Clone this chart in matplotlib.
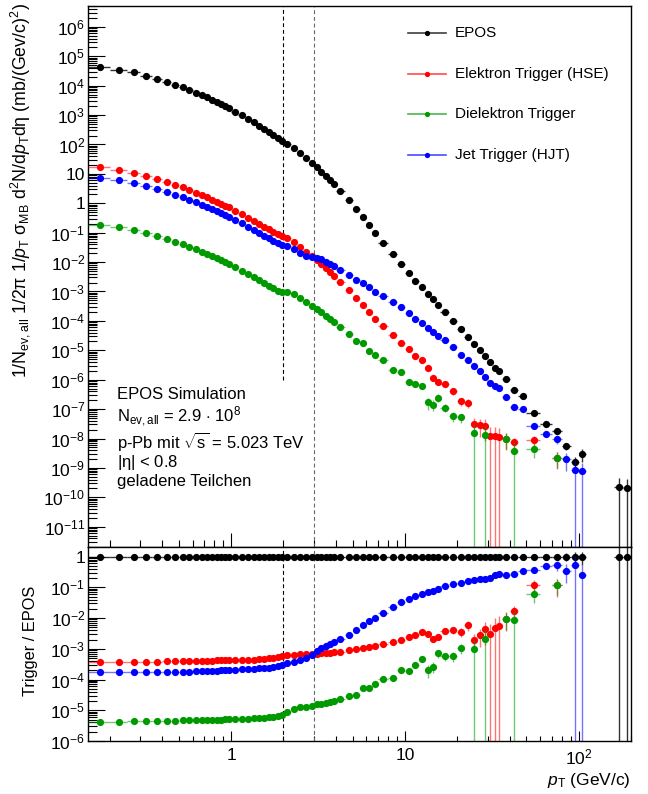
import numpy as np
import matplotlib
matplotlib.use("Agg")
import matplotlib.pyplot as plt
from matplotlib.lines import Line2D
from matplotlib.colors import to_rgba
from matplotlib.ticker import LogLocator, FixedLocator, FixedFormatter, NullFormatter

plt.rcParams['font.family'] = ['Liberation Sans', 'DejaVu Sans']
plt.rcParams['mathtext.fontset'] = 'custom'
plt.rcParams['mathtext.rm'] = 'Liberation Sans'
plt.rcParams['mathtext.it'] = 'Liberation Sans:italic'
plt.rcParams['mathtext.bf'] = 'Liberation Sans:bold'
plt.rcParams['mathtext.sf'] = 'Liberation Sans'

nan = np.nan

# pT binning (GeV/c)
pt_edges = [0.15, 0.2, 0.25, 0.3, 0.35, 0.4, 0.45, 0.5, 0.55, 0.6, 0.65, 0.7, 0.75, 0.8, 0.85, 0.9, 0.95, 1.0,
            1.1, 1.2, 1.3, 1.4, 1.5, 1.6, 1.7, 1.8, 1.9, 2.0,
            2.2, 2.4, 2.6, 2.8, 3.0, 3.2, 3.4, 3.6, 3.8, 4.0,
            4.5, 5.0, 5.5, 6.0, 6.5, 7.0,
            8, 9, 10,
            11, 12, 13, 14, 15, 16,
            18, 20, 22, 24, 26, 28, 30, 32, 34, 36,
            40, 45, 50, 60, 70, 80, 90, 100, 110, 120, 130, 140, 150, 160, 180, 200]

# log10 of the EPOS spectrum
epos_log = [4.64, 4.55, 4.45, 4.34, 4.23, 4.13, 4.03, 3.94, 3.85, 3.76, 3.68, 3.60, 3.51, 3.44, 3.37, 3.30, 3.23,
            3.12, 2.99, 2.87, 2.75, 2.64, 2.53, 2.42, 2.32, 2.22, 2.13,
            2.03, 1.87, 1.70, 1.53, 1.38, 1.22, 1.08, 0.93, 0.79, 0.66,
            0.43, 0.10, -0.20, -0.48, -0.75, -1.01,
            -1.34, -1.72, -2.06,
            -2.36, -2.63, -2.86, -3.08, -3.27, -3.46,
            -3.71, -4.00, -4.29, -4.54, -4.78, -4.98, -5.19, -5.40, -5.61, -5.70,
            -5.98, -6.35, -6.55, -7.14, -7.51, -7.73, -8.25, -8.79, -8.53, nan, nan, nan, nan, nan, -9.64, -9.69]

# log10 of Trigger / EPOS
hse_ratio_log = [-3.42, -3.42, -3.42, -3.42, -3.42, -3.41, -3.41, -3.40, -3.40, -3.40, -3.39, -3.39, -3.39, -3.38, -3.38, -3.38, -3.37,
                 -3.37, -3.36, -3.36, -3.35, -3.34, -3.33, -3.31, -3.29, -3.27, -3.24,
                 -3.21, -3.19, -3.18, -3.17, -3.16, -3.16, -3.15, -3.14, -3.13, -3.12,
                 -3.10, -3.05, -3.02, -2.99, -2.95, -2.91,
                 -2.83, -2.77, -2.70,
                 -2.61, -2.56, -2.47, -2.53, -2.67, -2.63,
                 -2.42, -2.38, -2.45, -2.24, -2.72, -2.56, -2.37, -2.51, -2.31, -2.25,
                 -2.02, -1.78, nan, -0.92, nan, -0.92, nan, nan, nan, nan, nan, nan, nan, nan, nan, nan]

hjt_ratio_log = [-3.77, -3.77, -3.77, -3.76, -3.76, -3.75, -3.75, -3.74, -3.74, -3.73, -3.73, -3.72, -3.72, -3.71, -3.70, -3.70, -3.69,
                 -3.68, -3.67, -3.66, -3.65, -3.64, -3.63, -3.61, -3.59, -3.57, -3.54,
                 -3.47, -3.43, -3.38, -3.31, -3.21, -3.07, -2.98, -2.91, -2.84, -2.78,
                 -2.69, -2.54, -2.40, -2.24, -2.11, -2.00,
                 -1.83, -1.65, -1.48,
                 -1.37, -1.29, -1.21, -1.16, -1.11, -1.07,
                 -0.95, -0.89, -0.86, -0.78, -0.75, -0.74, -0.73, -0.71, -0.60, -0.57,
                 -0.60, -0.57, -0.46, -0.44, -0.32, -0.28, -0.46, -0.28, -0.59, nan, nan, nan, nan, nan, nan, nan]

diel_ratio_log = [-5.37, -5.37, -5.36, -5.35, -5.35, -5.35, -5.34, -5.33, -5.33, -5.33, -5.32, -5.32, -5.31, -5.31, -5.31, -5.30, -5.30,
                  -5.29, -5.28, -5.27, -5.26, -5.25, -5.24, -5.23, -5.21, -5.19, -5.14,
                  -5.06, -4.95, -4.91, -4.88, -4.86, -4.81, -4.79, -4.75, -4.72, -4.69,
                  -4.63, -4.53, -4.49, -4.28, -4.28, -4.14,
                  -3.98, -3.96, -3.69,
                  -3.71, -3.53, -3.34, -3.69, -3.58, -3.15,
                  -3.24, -3.24, -2.99, nan, -3.02, nan, -2.69, nan, nan, nan,
                  -2.04, -2.07, nan, -1.21, nan, -0.92, nan, nan, nan, nan, nan, nan, nan, nan, nan, nan]

# relative statistical errors
epos_relerr = [0.005] * 56 + [0.03, 0.03, 0.04, 0.04, 0.05, 0.05, 0.06, 0.07, 0.08, 0.1, 0.15, 0.2, 0.3, 0.45, 0.45,
                              0, 0, 0, 0, 0, 1.0, 1.0]
hse_relerr = [0.01] * 43 + [0.04, 0.05, 0.06, 0.08, 0.1, 0.1, 0.15, 0.2, 0.2, 0.2, 0.25, 0.3, 0.35,
                            0.6, 0.6, 0.7, 1.0, 1.0, 1.0, 0.6, 0.45, 0, 0.45, 0, 0.6, 0, 0, 0, 0, 0, 0, 0, 0, 0, 0]
hjt_relerr = [0.01] * 51 + [0.03, 0.03, 0.04, 0.04, 0.04, 0.05, 0.05, 0.05, 0.05, 0.05, 0.06, 0.06, 0.06,
                            0.1, 0.1, 0.15, 0.35, 0.6, 1.0, 1.0, 0, 0, 0, 0, 0, 0, 0]
diel_relerr = [0.01] * 37 + [0.05, 0.05, 0.05, 0.05, 0.05, 0.05, 0.07, 0.1, 0.12, 0.15, 0.2, 0.2, 0.45, 0.4, 0.3,
                             0.3, 0.35, 0.35, 0, 1.0, 0, 1.0, 0, 0, 0, 0.55, 1.0, 0, 0.5, 0, 0.55,
                             0, 0, 0, 0, 0, 0, 0, 0, 0, 0]

legend_labels = ["EPOS", "Elektron Trigger (HSE)", "Dielektron Trigger", "Jet Trigger (HJT)"]
colors = ["black", "#ff0000", "#009a00", "#0000ff"]

info_lines = ["EPOS Simulation",
              r"N$_{\mathrm{ev,all}}$ = 2.9 $\cdot$ 10$^{8}$",
              r"p-Pb mit $\sqrt{\mathrm{s}}$ = 5.023 TeV",
              r"|$\mathrm{\eta}$| < 0.8",
              "geladene Teilchen"]

W, H = 648, 794


def fx(x):
    return x / W


def fy(y):
    return 1 - y / H


edges = np.array(pt_edges)
centers = 0.5 * (edges[1:] + edges[:-1])
halfw = 0.5 * np.diff(edges)
epos = 10 ** np.array(epos_log)


def draw_points(ax, y, rel, color, z, ealpha):
    y = np.asarray(y, dtype=float)
    rel = np.asarray(rel, dtype=float)
    ok = np.isfinite(y)
    yv = y[ok]
    r = rel[ok]
    lo = yv - np.maximum(yv * (1 - r), 1e-30)
    hi = yv * r
    ax.errorbar(centers[ok], yv, xerr=halfw[ok], yerr=[lo, hi], fmt='o', ms=5.2,
                mfc=color, mec=color, mew=0, ecolor=to_rgba(color, ealpha),
                elinewidth=1.0, capsize=0, zorder=z)


fig = plt.figure(figsize=(W / 100, H / 100), dpi=100)
ax_top = fig.add_axes([fx(88), fy(547), fx(631) - fx(88), (547 - 6) / H])
ax_bot = fig.add_axes([fx(88), fy(741), fx(631) - fx(88), (741 - 547) / H])

series = [(None, epos_relerr),
          (hse_ratio_log, hse_relerr),
          (diel_ratio_log, diel_relerr),
          (hjt_ratio_log, hjt_relerr)]

for i, (color, (ratio_log, rel)) in enumerate(zip(colors, series)):
    ealpha = 0.8 if i == 0 else 0.55
    if ratio_log is None:
        spec = epos
        ratio = np.where(np.isfinite(epos), 1.0, np.nan)
    else:
        ratio = 10 ** np.array(ratio_log)
        spec = epos * ratio
    draw_points(ax_top, spec, rel, color, 3 + i, ealpha)
    draw_points(ax_bot, ratio, rel, color, 3 + i, ealpha)

ytop_lim = (10 ** -11.69, 10 ** 6.71)
ybot_lim = (1e-6, 10 ** 0.31)

# dashed guide lines at 2 and 3 GeV/c
dash = (0, (3.5, 2.5))
ax_top.plot([2, 2], [1e-6, ytop_lim[1]], color='black', lw=0.8, ls=dash, zorder=2)
ax_top.plot([3, 3], list(ytop_lim), color='0.4', lw=0.8, ls=dash, zorder=2)
ax_bot.plot([2, 2], list(ybot_lim), color='black', lw=0.8, ls=dash, zorder=2)
ax_bot.plot([3, 3], list(ybot_lim), color='0.4', lw=0.8, ls=dash, zorder=2)


def exp_label(k):
    if k == 0:
        return "1"
    if k == 1:
        return "10"
    return r"$10^{%d}$" % k


for ax, ylim in [(ax_top, ytop_lim), (ax_bot, ybot_lim)]:
    ax.set_xscale('log')
    ax.set_yscale('log')
    ax.set_xlim(0.15, 200)
    ax.set_ylim(*ylim)
    ax.xaxis.set_major_locator(FixedLocator([1, 10, 100]))
    ax.xaxis.set_minor_locator(LogLocator(base=10, subs=np.arange(2, 10), numticks=100))
    ax.yaxis.set_minor_locator(LogLocator(base=10, subs=np.arange(2, 10), numticks=100))
    ax.xaxis.set_minor_formatter(NullFormatter())
    ax.yaxis.set_minor_formatter(NullFormatter())
    ax.tick_params(which='both', direction='in', top=False, right=False, width=0.8,
                   labelsize=12.5)
    ax.tick_params(axis='y', which='major', length=12, pad=2)
    ax.tick_params(axis='y', which='minor', length=6.5)
    for sp in ax.spines.values():
        sp.set_linewidth(1.0)

top_exps = list(range(-11, 7))
ax_top.yaxis.set_major_locator(FixedLocator([10.0 ** k for k in top_exps]))
ax_top.yaxis.set_major_formatter(FixedFormatter([exp_label(k) for k in top_exps]))
ax_top.tick_params(axis='x', which='major', length=10, labelbottom=False)
ax_top.tick_params(axis='x', which='minor', length=5)

bot_exps = list(range(-6, 1))
ax_bot.yaxis.set_major_locator(FixedLocator([10.0 ** k for k in bot_exps]))
ax_bot.yaxis.set_major_formatter(FixedFormatter([exp_label(k) for k in bot_exps]))
ax_bot.xaxis.set_major_formatter(FixedFormatter(["1", "10", r"$10^{2}$"]))
ax_bot.tick_params(axis='x', which='major', length=7, pad=5)
ax_bot.tick_params(axis='x', which='minor', length=3.6)

# axis titles
fig.text(fx(20), fy(3),
         r"1/N$_{\mathrm{ev,all}}$ 1/2$\mathrm{\pi}$ 1/$p_{\mathrm{T}}$ $\mathrm{\sigma}_{\mathrm{MB}}$ "
         r"d$^{2}$N/d$p_{\mathrm{T}}$d$\mathrm{\eta}$ (mb/(Gev/c)$^{2}$)",
         rotation=90, ha='center', va='top', fontsize=12.8)
fig.text(fx(31), fy(641), "Trigger / EPOS", rotation=90, ha='center', va='center', fontsize=11.8)
fig.text(fx(631), fy(780), r"$p_{\mathrm{T}}$ (GeV/c)", ha='right', va='center', fontsize=12.5)

# legend drawn by hand
for label, color, yy in zip(legend_labels, colors, [33.3, 74, 114, 155]):
    fig.add_artist(Line2D([fx(408), fx(446)], [fy(yy), fy(yy)], color=color, lw=1.2,
                          alpha=0.7 if color != "black" else 0.75))
    fig.add_artist(Line2D([fx(427)], [fy(yy)], color=color, marker='o', ms=3.8, mew=0, lw=0))
    fig.text(fx(455), fy(yy), label, ha='left', va='center', fontsize=11)

for line, yy in zip(info_lines, [395, 416.7, 441.7, 462.7, 481.7]):
    fig.text(fx(116.7), fy(yy), line, ha='left', va='center', fontsize=12)

fig.savefig("out.png", dpi=100)
